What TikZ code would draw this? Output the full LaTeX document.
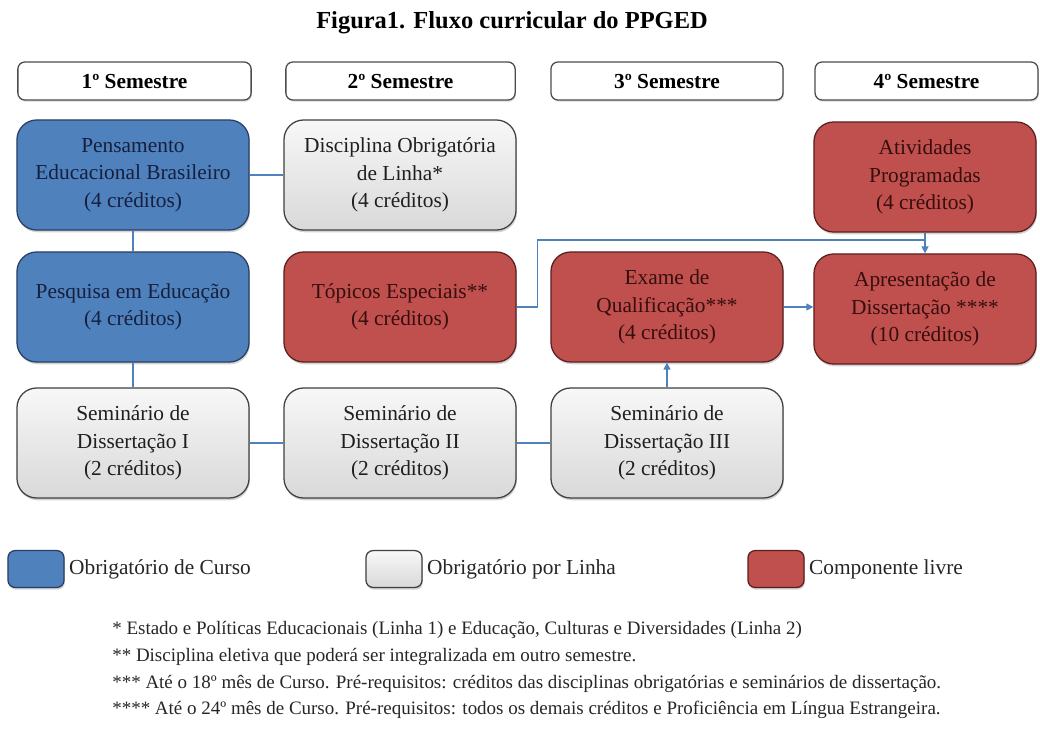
\documentclass[tikz,border=0pt]{standalone}
\usepackage{fontspec}
\setmainfont{Liberation Serif}
\usetikzlibrary{arrows.meta,shadows}
\definecolor{azul}{RGB}{79,129,189}
\definecolor{azulbd}{RGB}{40,62,100}
\definecolor{azultx}{RGB}{22,32,62}
\definecolor{verm}{RGB}{192,80,77}
\definecolor{vermbd}{RGB}{90,32,32}
\definecolor{vermtx}{RGB}{55,14,14}
\definecolor{linha}{RGB}{79,129,189}
\tikzset{
  caixa/.style={rounded corners=14pt, draw, line width=.9pt, minimum width=5.8cm,
    minimum height=2.75cm, align=center, font=\fontsize{15.2}{19.6}\selectfont,
    drop shadow={shadow xshift=.6pt, shadow yshift=-1.6pt, opacity=.35}},
  obrig/.style={caixa, fill=azul, draw=azulbd, text=azultx},
  linhab/.style={caixa, top color=gray!6, bottom color=gray!30, draw=black!75, text=black!88},
  livre/.style={caixa, fill=verm, draw=vermbd, text=vermtx},
  hdr/.style={rounded corners=5pt, draw=black!70, line width=.9pt, fill=white,
    minimum height=.95cm, font=\bfseries\fontsize{15.2}{18}\selectfont,
    drop shadow={shadow xshift=.6pt, shadow yshift=-1.2pt, opacity=.3}},
  leg/.style={rounded corners=5pt, minimum width=1.4cm, minimum height=.92cm},
  legtx/.style={anchor=west, inner sep=3pt, font=\fontsize{15.2}{18}\selectfont, text=black!85},
  nota/.style={anchor=west, inner sep=0pt, font=\fontsize{13.5}{16}\selectfont, text=black!85},
  conn/.style={draw=linha, line width=1pt},
  >={Triangle[length=5pt, width=5pt]}
}
\begin{document}
\begin{tikzpicture}[x=.025cm, y=-.025cm]
  \useasboundingbox (0,0) rectangle (1040,738);
  \node[font=\bfseries\fontsize{17.4}{20}\selectfont] (tit) at (512,23) {Figura1. Fluxo curricular do PPGED};
  % semestres
  \foreach \i/\x/\w in {1/134.5/5.83, 2/400.5/5.73, 3/667/5.8, 4/926.5/5.57}
    \node[hdr, minimum width=\w cm] (h\i) at (\x,81) {{\i}º Semestre};
  % disciplinas
  \node[obrig] (pens) at (133,175) {Pensamento\\Educacional Brasileiro\\(4 créditos)};
  \node[linhab] (disc) at (400,175) {Disciplina Obrigatória\\de Linha*\\(4 créditos)};
  \node[livre, minimum width=5.55cm] (ativ) at (925,177) {Atividades\\Programadas\\(4 créditos)};
  \node[obrig] (pesq) at (133,307) {Pesquisa em Educação\\(4 créditos)};
  \node[livre] (top) at (400,307) {Tópicos Especiais**\\(4 créditos)};
  \node[livre] (exam) at (667,307) {Exame de\\Qualificação***\\(4 créditos)};
  \node[livre, minimum width=5.55cm] (apres) at (925,309) {Apresentação de\\Dissertação ****\\(10 créditos)};
  \node[linhab] (sem1) at (133,443) {Seminário de\\Dissertação I\\(2 créditos)};
  \node[linhab] (sem2) at (400,443) {Seminário de\\Dissertação II\\(2 créditos)};
  \node[linhab] (sem3) at (667,443) {Seminário de\\Dissertação III\\(2 créditos)};
  % ligacoes
  \coordinate (jn) at (925,240);
  \draw[conn] (pens) -- (pesq) -- (sem1) -- (sem2) -- (sem3);
  \draw[conn] (pens) -- (disc);
  \draw[conn] (top.east) -- ++(21,0) |- (jn);
  \draw[conn,->] (ativ) -- (apres);
  \draw[conn,->] (exam.east) -- (exam.east -| apres.west);
  \draw[conn,->] (sem3) -- (exam);
  % legenda
  \node[obrig, leg] (lg1) at (36,569) {};
  \node[linhab, leg] (lg2) at (394,569) {};
  \node[livre, leg] (lg3) at (776,569) {};
  \node[legtx] (lt1) at (lg1.east) {Obrigatório de Curso};
  \node[legtx] (lt2) at (lg2.east) {Obrigatório por Linha};
  \node[legtx] (lt3) at (lg3.east) {Componente livre};
  % notas
  \node[nota] (n1) at (112,630) {* Estado e Políticas Educacionais (Linha 1) e Educação, Culturas e Diversidades (Linha 2)};
  \node[nota] (n2) at (112,657) {** Disciplina eletiva que poderá ser integralizada em outro semestre.};
  \node[nota] (n3) at (112,684) {*** Até o 18º mês de Curso. Pré-requisitos: créditos das disciplinas obrigatórias e seminários de dissertação.};
  \node[nota] (n4) at (112,710) {**** Até o 24º mês de Curso. Pré-requisitos: todos os demais créditos e Proficiência em Língua Estrangeira.};
\end{tikzpicture}
\end{document}
